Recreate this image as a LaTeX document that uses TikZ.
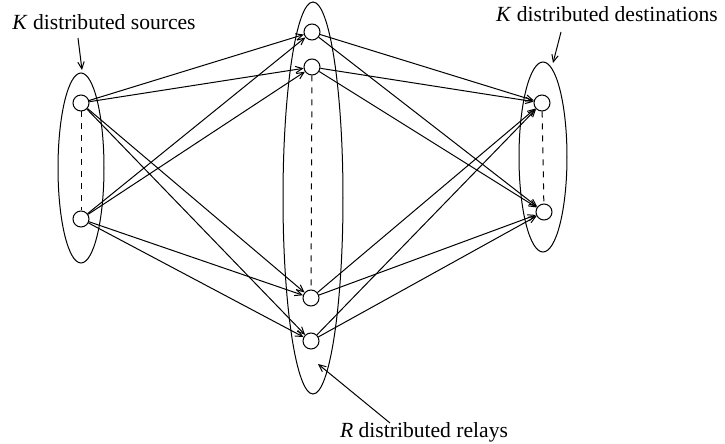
\documentclass[tikz,border=0pt]{standalone}
\usepackage{fontspec}
\setmainfont{Liberation Serif}
\usetikzlibrary{arrows.meta}
\begin{document}
\begin{tikzpicture}[x=0.5pt,y=-0.5pt,
  line width=0.5pt,
  peer/.style={circle,draw,minimum size=8pt,inner sep=0pt},
  grp/.style={ellipse,draw},
  link/.style={-{Straight Barb[length=3.5pt,width=3.2pt]}},
  lbl/.style={font=\fontsize{10.8}{13}\selectfont,inner sep=0pt}]
\useasboundingbox (0,0) rectangle (725,444);
% groups
\draw (81,168) ellipse [x radius=23, y radius=95];
\draw (313,198) ellipse [x radius=30, y radius=196];
\draw (543,157) ellipse [x radius=24, y radius=95];
% nodes
\node[peer] (s1) at (81,103) {};
\node[peer] (s2) at (81,219) {};
\node[peer] (r1) at (312,32) {};
\node[peer] (r2) at (312,67) {};
\node[peer] (r3) at (311,298) {};
\node[peer] (r4) at (311,341) {};
\node[peer] (d1) at (542,103) {};
\node[peer] (d2) at (544,212) {};
% dashed
\draw[dashed] (s1) -- (s2);
\draw[dashed] (r2) -- (r3);
\draw[dashed] (d1) -- (d2);
% links
\foreach \a in {s1,s2}{\foreach \b in {r1,r2,r3,r4}{\draw[link] (\a) -- (\b);}}
\foreach \a in {r1,r2,r3,r4}{\foreach \b in {d1,d2}{\draw[link] (\a) -- (\b);}}
% labels
\node[lbl] (ls) at (104,22) {\textit{K} distributed sources};
\node[lbl] (ld) at (607,14) {\textit{K} distributed destinations};
\node[lbl] (lr) at (424,432) {\textit{R} distributed relays};
\coordinate (as) at (82,70);
\coordinate (ad) at (553,63);
\coordinate (ar) at (318,364);
\coordinate (as0) at (78,38);
\coordinate (ad0) at (561,32);
\coordinate (ar0) at (390,423);
\draw[link] (as0) -- (as);
\draw[link] (ad0) -- (ad);
\draw[link] (ar0) -- (ar);
\end{tikzpicture}
\end{document}
